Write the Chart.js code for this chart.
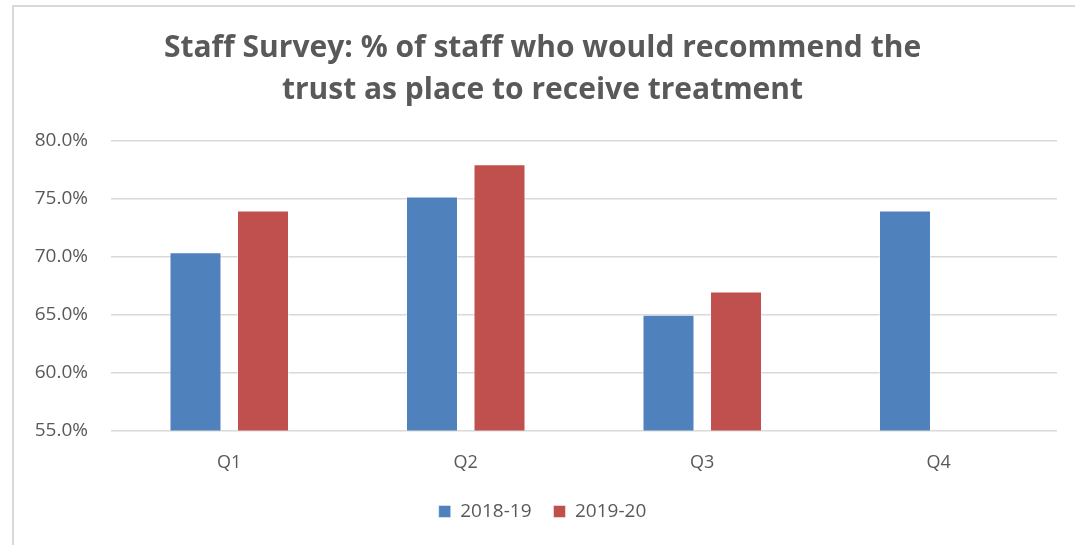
<!DOCTYPE html>
<html>
<head>
<meta charset="utf-8">
<script src="https://cdn.jsdelivr.net/npm/chart.js@4.4.1/dist/chart.umd.min.js"></script>
<style>
  html, body { margin: 0; padding: 0; background: #fff; }
  #wrap { position: relative; width: 1075px; height: 545px; overflow: hidden; }
  #frame {
    position: absolute; left: 12px; top: 5px; right: 0; bottom: 0;
    border-top: 2px solid #d9d9d9; border-left: 2px solid #d9d9d9;
    pointer-events: none;
  }
  canvas { position: absolute; left: 0; top: 0; }
</style>
</head>
<body>
<div id="wrap">
  <canvas id="chart" width="1075" height="545"></canvas>
  <div id="frame"></div>
</div>
<script>
// Survey results by quarter, percent of staff
const quarters = ['Q1', 'Q2', 'Q3', 'Q4'];
const year1819 = [70.4, 75.2, 65.0, 74.0];
const year1920 = [74.0, 78.0, 67.0, null];
const seriesNames = ['2018-19', '2019-20'];
const titleLines = [
  'Staff Survey: % of staff who would recommend the',
  'trust as place to receive treatment'
];
const yMin = 55, yMax = 80, yStep = 5;

const FONT = "'Open Sans', sans-serif";
const TEXT = '#595959';

new Chart(document.getElementById('chart'), {
  type: 'bar',
  data: {
    labels: quarters,
    datasets: [
      {
        label: seriesNames[0],
        data: year1819,
        backgroundColor: '#4f81bd',
        borderColor: 'rgba(255,255,255,0.45)',
        borderWidth: 1
      },
      {
        label: seriesNames[1],
        data: year1920,
        backgroundColor: '#c0504d',
        borderColor: 'rgba(255,255,255,0.45)',
        borderWidth: 1
      }
    ]
  },
  options: {
    responsive: false,
    animation: false,
    devicePixelRatio: 1,
    categoryPercentage: 0.571,
    barPercentage: 0.77,
    layout: { padding: { left: 28, right: 18, top: 0, bottom: 14 } },
    plugins: {
      tooltip: { enabled: false },
      title: {
        display: true,
        text: titleLines,
        color: TEXT,
        font: { family: FONT, size: 30, weight: 'bold', lineHeight: 1.4 },
        padding: { top: 27, bottom: 30 }
      },
      legend: {
        display: true,
        position: 'bottom',
        labels: {
          color: TEXT,
          font: { family: FONT, size: 19 },
          boxWidth: 12,
          boxHeight: 12,
          padding: 22
        }
      }
    },
    scales: {
      x: {
        grid: { display: false, drawTicks: false },
        border: { display: false },
        ticks: { color: TEXT, font: { family: FONT, size: 18 }, padding: 22 },
        afterFit: scale => { scale.height = scale.height - 16; }
      },
      y: {
        min: yMin,
        max: yMax,
        grid: { color: '#d9d9d9', lineWidth: 1.5, drawTicks: false },
        border: { display: false },
        ticks: {
          stepSize: yStep,
          color: TEXT,
          font: { family: FONT, size: 19 },
          padding: 23,
          callback: v => v.toFixed(1) + '%'
        },
        afterFit: scale => { scale.width = 83; }
      }
    }
  }
});
</script>
</body>
</html>
